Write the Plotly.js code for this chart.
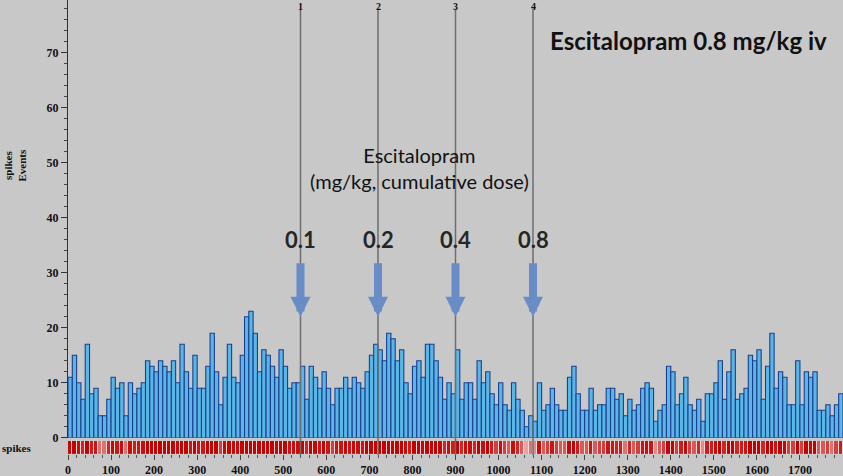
<!DOCTYPE html>
<html><head><meta charset="utf-8">
<script src="https://cdn.plot.ly/plotly-3.0.1.min.js"></script>
<style>html,body{margin:0;padding:0;background:#c8c8c8;}#chart{width:843px;height:476px;}</style>
</head><body><div id="chart"></div>
<script>
// spike counts per 10 s bin, from t = 0 s
const binWidth = 10;
const spikeCounts = [
 11,15,10,7,17,8,9,4,4,7, 11,9,10,4,10,8,9,10,14,13,
 12,14,13,12,14,10,17,12,9,15, 9,9,13,19,12,6,11,17,11,10,
 15,22,23,19,12,16,15,13,11,16, 13,9,10,10,13,7,13,11,9,12,
 9,6,9,9,11,9,11,10,9,12, 15,17,16,14,19,18,14,16,10,8,
 13,14,11,17,17,14,11,7,10,8, 16,7,10,10,7,14,10,12,8,6,
 10,6,5,10,7,5,2,4,3,10, 5,6,9,6,5,5,11,13,8,5,
 5,9,5,6,6,9,9,7,8,4, 7,5,6,9,10,9,3,5,6,13,
 12,6,8,11,6,5,7,3,8,8, 10,14,7,12,16,7,8,9,15,14,
 16,7,13,19,9,12,11,6,6,14, 6,12,11,12,5,5,6,4,6,8
];
const binCenters = spikeCounts.map((_, i) => i * binWidth + binWidth / 2);

const xTickVals = [0,100,200,300,400,500,600,700,800,900,1000,1100,1200,1300,1400,1500,1600,1700];
const yTickVals = [0,10,20,30,40,50,60,70,80];

const eventTimes = [540, 720, 900, 1080];
const eventLabels = ['1', '2', '3', '4'];
const doseLabels = ['0.1', '0.2', '0.4', '0.8'];

const titleText = 'Escitalopram 0.8 mg/kg iv';
const drugText = 'Escitalopram<br>(mg/kg, cumulative dose)';

const serif = 'Liberation Serif, Times New Roman, serif';
const sans = 'Lato, Open Sans, sans-serif';

const histTrace = {
  type: 'bar', x: binCenters, y: spikeCounts, width: binWidth,
  xaxis: 'x', yaxis: 'y',
  marker: { color: '#5ab6e6', line: { color: '#1b3f8f', width: 1.1 } },
  hoverinfo: 'x+y'
};
const rasterTrace = {
  type: 'heatmap', x: binCenters, y: [0], z: [spikeCounts],
  xaxis: 'x', yaxis: 'y2', xgap: 1, showscale: false,
  zmin: 0, zmax: 12,
  colorscale: [[0, '#f1d6d6'], [0.25, '#e28a8a'], [0.6, '#d02020'], [1, '#c40000']]
};

const shapes = [{
  type: 'rect', xref: 'paper', yref: 'y2 domain', x0: 0, x1: 1, y0: 0, y1: 1,
  fillcolor: '#f3dede', line: { width: 0 }, layer: 'below'
}];
eventTimes.forEach(t => shapes.push({
  type: 'line', xref: 'x', yref: 'paper', x0: t, x1: t, y0: 0, y1: 0.981,
  line: { color: '#6e6e6e', width: 1.5 }
}));

const annotations = [];
eventTimes.forEach((t, i) => {
  annotations.push({ xref: 'x', yref: 'paper', x: t, y: 1, xanchor: 'center', yanchor: 'top', yshift: 1,
    text: eventLabels[i], showarrow: false, font: { family: serif, size: 10, color: '#111', weight: 'bold' } });
  annotations.push({ xref: 'x', yref: 'y', x: t, y: 36, xanchor: 'center', yanchor: 'middle', text: doseLabels[i], showarrow: false,
    font: { family: sans, size: 22, color: '#262626', weight: 'bold' } });
  annotations.push({ xref: 'x', yref: 'y', x: t, y: 22, ax: 0, ay: -55, text: '',
    showarrow: true, arrowhead: 2, arrowwidth: 8, arrowsize: 0.5, arrowcolor: '#6a8cc6', standoff: 0 });
});
annotations.push({ xref: 'paper', yref: 'paper', x: 0.8, y: 0.912, xanchor: 'center', yanchor: 'middle',
  text: titleText, showarrow: false,
  font: { family: sans, size: 24, color: '#111', weight: 'bold' } });
annotations.push({ xref: 'paper', yref: 'paper', x: 0.454, y: 0.63, xanchor: 'center', yanchor: 'middle',
  text: drugText, showarrow: false,
  font: { family: sans, size: 20, color: '#111' } });
annotations.push({ xref: 'paper', yref: 'paper', x: -0.068, y: 0.637, xanchor: 'center', yanchor: 'middle',
  text: 'spikes<br>Events', textangle: -90,
  showarrow: false, font: { family: serif, size: 11, color: '#111', weight: 'bold' } });
annotations.push({ xref: 'paper', yref: 'paper', x: -0.066, y: 0.016, xanchor: 'center', yanchor: 'middle',
  text: 'spikes',
  showarrow: false, font: { family: serif, size: 11, color: '#111', weight: 'bold' } });

const layout = {
  width: 843, height: 476,
  margin: { l: 68, r: 0, t: 0, b: 21 },
  paper_bgcolor: '#c8c8c8', plot_bgcolor: '#c8c8c8',
  showlegend: false, bargap: 0,
  xaxis: {
    range: [0, 1800], anchor: 'y2', tickvals: xTickVals, ticktext: xTickVals.map(String),
    ticks: 'outside', ticklen: 5, tickwidth: 1, tickcolor: '#444',
    minor: { dtick: 20, ticks: 'outside', ticklen: 3, tickcolor: '#555' },
    showgrid: false, zeroline: false, showline: false,
    tickfont: { family: serif, size: 12, color: '#111', weight: 'bold' }
  },
  yaxis: {
    domain: [0.038, 1], range: [0, 79.6], anchor: 'x',
    tickvals: yTickVals, ticktext: yTickVals.map(String),
    ticks: 'outside', ticklen: 6, tickwidth: 1, tickcolor: '#333',
    minor: { dtick: 2, ticks: 'outside', ticklen: 3, tickcolor: '#444' },
    showline: true, linecolor: '#333', linewidth: 1,
    showgrid: false, zeroline: false,
    tickfont: { family: serif, size: 12, color: '#111', weight: 'bold' }
  },
  yaxis2: { domain: [0.002, 0.031], range: [-0.5, 0.5], anchor: 'x', visible: false },
  shapes: shapes, annotations: annotations
};

Plotly.newPlot('chart', [histTrace, rasterTrace], layout, { staticPlot: true, displayModeBar: false });
</script></body></html>
